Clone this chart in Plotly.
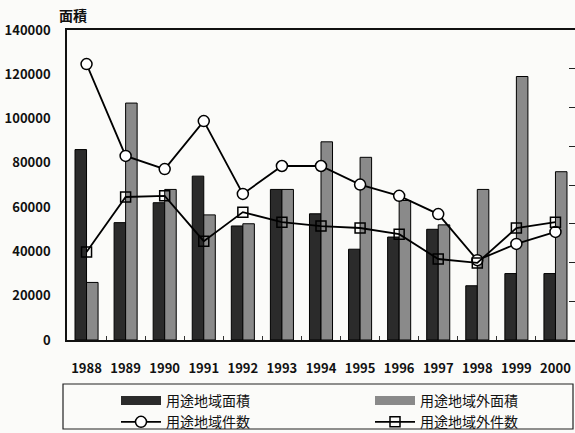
import plotly.graph_objects as go

# 年度
years = ["1988", "1989", "1990", "1991", "1992", "1993", "1994",
         "1995", "1996", "1997", "1998", "1999", "2000"]

# 面積（左軸）
area_inside = [86000, 53000, 62000, 74000, 51500, 68000, 57000,
               41000, 46500, 50000, 24500, 30000, 30000]
area_outside = [26000, 107000, 68000, 56500, 52500, 68000, 89500,
                82500, 63000, 52000, 68000, 119000, 76000]

# 件数（右軸）
count_inside = [712, 475, 441, 565, 377, 449, 449,
                401, 372, 325, 206, 248, 279]
count_outside = [227, 369, 372, 255, 330, 304, 294,
                 289, 273, 209, 199, 289, 304]

FONT = "Noto Sans CJK JP"
W, H = 575, 433
ML, MR, MT, MB = 67, 0, 30, 93
PW = W - ML - MR
PH = H - MT - MB

DARK = "#2b2b2b"
GRAY = "#8a8a8a"


def px_x(x):
    return (x - ML) / PW


def px_y(y):
    return (H - MB - y) / PH


fig = go.Figure()

# 棒グラフ（凡例は下の帯状の見本で表示）
fig.add_trace(go.Bar(
    x=years, y=area_inside, name="用途地域面積", showlegend=False,
    marker=dict(color=DARK, line=dict(color="#000000", width=1)),
))
fig.add_trace(go.Bar(
    x=years, y=area_outside, name="用途地域外面積", showlegend=False,
    marker=dict(color=GRAY, line=dict(color="#000000", width=1)),
))

# 折れ線（右軸）
fig.add_trace(go.Scatter(
    x=years, y=count_inside, name="用途地域件数", mode="lines+markers",
    line=dict(color="#000000", width=1.8),
    marker=dict(symbol="circle", size=11, color="#ffffff",
                line=dict(color="#000000", width=1.5)),
    yaxis="y2", legend="legend", legendrank=2,
))
fig.add_trace(go.Scatter(
    x=years, y=count_outside, name="用途地域外件数", mode="lines+markers",
    line=dict(color="#000000", width=1.8),
    marker=dict(symbol="square-open", size=10, color="#000000",
                line=dict(color="#000000", width=1.5)),
    yaxis="y2", legend="legend2", legendrank=2,
))

# 凡例用の帯状見本
fig.add_trace(go.Scatter(
    x=[None], y=[None], name="用途地域面積", mode="lines",
    line=dict(color=DARK, width=9), legend="legend", legendrank=1,
))
fig.add_trace(go.Scatter(
    x=[None], y=[None], name="用途地域外面積", mode="lines",
    line=dict(color=GRAY, width=9), legend="legend2", legendrank=1,
))

legend_common = dict(
    orientation="v",
    yanchor="top",
    font=dict(family=FONT, size=14, color="#111111"),
    bgcolor="rgba(0,0,0,0)",
    borderwidth=0,
    tracegroupgap=0,
    itemwidth=40,
    traceorder="normal",
)

fig.update_layout(
    width=W, height=H,
    margin=dict(l=ML, r=MR, t=MT, b=MB, pad=0, autoexpand=False),
    paper_bgcolor="#fbfbf9",
    plot_bgcolor="#fbfbf9",
    font=dict(family=FONT, color="#111111", size=13),
    barmode="group",
    bargap=0.41,
    bargroupgap=0,
    showlegend=True,
    legend=dict(x=px_x(116), y=px_y(385), **legend_common),
    legend2=dict(x=px_x(370), y=px_y(385), **legend_common),
    xaxis=dict(
        type="category",
        range=[-0.5, len(years) - 0.5],
        showline=True, linecolor="#111111", linewidth=1.5,
        mirror=True,
        ticks="inside", ticklen=4, tickcolor="#333333",
        tickson="boundaries",
        tickangle=0,
        tickfont=dict(family=FONT, size=13, weight="bold"),
        ticklabelstandoff=16,
        showgrid=False, zeroline=False, automargin=False,
    ),
    yaxis=dict(
        range=[0, 140000], dtick=20000,
        showline=True, linecolor="#111111", linewidth=1.5,
        ticks="", showgrid=False, zeroline=False,
        tickformat="d",
        tickfont=dict(family=FONT, size=13, weight="bold"),
        ticklabelstandoff=12, automargin=False,
    ),
    yaxis2=dict(
        range=[0, 800], dtick=100,
        overlaying="y", side="right",
        showline=False, showgrid=False, zeroline=False,
        ticks="inside", ticklen=6, tickcolor="#222222",
        showticklabels=False, automargin=False,
    ),
    annotations=[dict(
        text="面積", xref="paper", yref="paper",
        x=px_x(57), y=px_y(15), xanchor="left", yanchor="middle",
        showarrow=False,
        font=dict(family=FONT, size=14, weight="bold", color="#111111"),
    )],
    shapes=[dict(
        type="rect", xref="paper", yref="paper",
        x0=px_x(63), x1=px_x(573), y0=px_y(384), y1=px_y(429),
        line=dict(color="#222222", width=1.2), fillcolor="rgba(0,0,0,0)",
    )],
)

fig.write_html("out.html")
